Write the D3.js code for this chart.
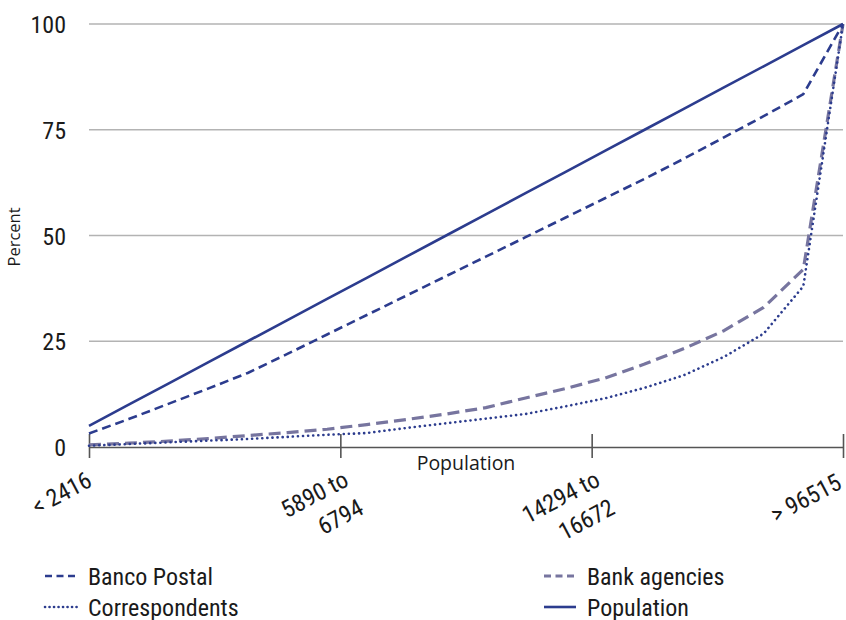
<!DOCTYPE html>
<html>
<head>
<meta charset="utf-8">
<script src="https://cdn.jsdelivr.net/npm/d3@7"></script>
<style>
  html, body { margin: 0; padding: 0; background: #fff; }
  svg { display: block; }
  .narrow { font-family: "Liberation Sans Narrow", "Arial Narrow", "Roboto", sans-serif; font-stretch: condensed; fill: #1a1a1a; }
  .title { font-family: "Open Sans", "Noto Sans", sans-serif; fill: #1a1a1a; }
</style>
</head>
<body>
<svg id="chart" width="846" height="620"></svg>
<script>
// ---- data ----
const groups = [1, 2, 3, 4, 5, 6, 7, 8, 9, 10, 11, 12, 13, 14, 15, 16, 17, 18, 19, 20];
const bancoPostal = [3.2, 6.6, 10.2, 13.8, 17.5, 22.0, 26.6, 31.2, 35.8, 40.4, 45.0, 49.6, 54.2, 58.8, 63.4, 68.2, 73.2, 78.2, 83.4, 100];
const bankAgencies = [0.5, 0.9, 1.4, 2.0, 2.7, 3.4, 4.2, 5.3, 6.5, 7.8, 9.3, 11.6, 13.8, 16.3, 19.6, 23.3, 27.5, 33.0, 42.0, 100];
const correspondents = [0.3, 0.7, 1.1, 1.5, 1.9, 2.4, 2.9, 3.3, 4.5, 5.6, 6.7, 7.8, 9.6, 11.5, 14.0, 17.0, 21.3, 26.8, 38.0, 100];
const population = [5, 10, 15, 20, 25, 30, 35, 40, 45, 50, 55, 60, 65, 70, 75, 80, 85, 90, 95, 100];
const xTickLabels = [["< 2416"], ["5890 to", "6794"], ["14294 to", "16672"], ["> 96515"]];
const yTicks = [0, 25, 50, 75, 100];
const seriesNames = ["Banco Postal", "Correspondents", "Bank agencies", "Population"];

// ---- styles ----
const BLUE = "#2c3c8e";
const GREY = "#77759f";
const styles = {
  "Banco Postal":   { color: BLUE, width: 2.6, dash: "9,5", cap: "butt", legDash: "7,4.5" },
  "Bank agencies":  { color: GREY, width: 3.2, dash: "12,6", cap: "butt", legDash: "7,4.5" },
  "Correspondents": { color: BLUE, width: 2.6, dash: "0.1,5", cap: "round", legDash: "0.1,4.4" },
  "Population":     { color: BLUE, width: 2.6, dash: null, cap: "butt", legDash: null }
};
const seriesData = {
  "Banco Postal": bancoPostal,
  "Bank agencies": bankAgencies,
  "Correspondents": correspondents,
  "Population": population
};

const svg = d3.select("#chart");
const x = d3.scaleLinear().domain([groups[0], groups[groups.length - 1]]).range([89, 843]);
const y = d3.scaleLinear().domain([0, 100]).range([447, 24]);

// gridlines
svg.append("g")
  .selectAll("line")
  .data(yTicks.filter(d => d > 0))
  .join("line")
  .attr("x1", x.range()[0]).attr("x2", x.range()[1])
  .attr("y1", d => y(d)).attr("y2", d => y(d))
  .attr("stroke", "#b3b3b3").attr("stroke-width", 1.5);

// y axis labels
const yAxis = d3.axisLeft(y).tickValues(yTicks).tickSize(0).tickPadding(0);
const gy = svg.append("g").attr("transform", "translate(66,0)").call(yAxis);
gy.select(".domain").remove();
gy.selectAll("text").attr("class", "narrow").attr("font-size", 24).attr("dy", "0.36em").attr("fill", "#1a1a1a");

// x axis
const [d0, d1] = x.domain();
const tickPos = xTickLabels.map((_, i) => d0 + (d1 - d0) * i / (xTickLabels.length - 1));
const xAxis = d3.axisBottom(x).tickValues(tickPos).tickSize(11).tickSizeOuter(0).tickFormat("");
const gx = svg.append("g").attr("transform", `translate(0,${y(0)})`).call(xAxis);
gx.select(".domain").attr("stroke", "#555").attr("stroke-width", 1.6);
gx.selectAll(".tick line").attr("stroke", "#555").attr("stroke-width", 1.6).attr("y1", -13);

const lbl = svg.append("g");
xTickLabels.forEach((lines, i) => {
  const last = i === xTickLabels.length - 1;
  const g = lbl.append("g").attr("transform", `translate(${x(tickPos[i])},${y(0)}) rotate(-28)`);
  lines.forEach((t, j) => {
    g.append("text").attr("class", "narrow").attr("font-size", 24)
      .attr("text-anchor", "end")
      .attr("x", lines.length === 1 ? (last ? -19 : -14) : -9)
      .attr("y", (lines.length === 1 ? 36 : 38) + j * 32).text(t);
  });
});

// axis titles
svg.append("text").attr("class", "title").attr("font-size", 19.5)
  .attr("text-anchor", "middle").attr("x", 466).attr("y", 470).text("Population");
svg.append("text").attr("class", "title").attr("font-size", 16.5)
  .attr("text-anchor", "middle").attr("transform", "translate(20,237) rotate(-90)").text("Percent");

// lines
const line = d3.line().x((d, i) => x(groups[i])).y(d => y(d)).curve(d3.curveLinear);
["Bank agencies", "Correspondents", "Banco Postal", "Population"].forEach(name => {
  const s = styles[name];
  svg.append("path")
    .datum(seriesData[name])
    .attr("d", line)
    .attr("fill", "none")
    .attr("stroke", s.color)
    .attr("stroke-width", s.width)
    .attr("stroke-dasharray", s.dash)
    .attr("stroke-linecap", s.cap)
    .attr("stroke-linejoin", "round");
});

// legend
const legendPos = {
  "Banco Postal":   [45, 0],
  "Correspondents": [45, 1],
  "Bank agencies":  [544, 0],
  "Population":     [544, 1]
};
const leg = svg.append("g");
seriesNames.forEach(name => {
  const [lx, row] = legendPos[name];
  const s = styles[name];
  const ly = 576 + row * 31;
  leg.append("line")
    .attr("x1", lx).attr("x2", lx + 32).attr("y1", ly).attr("y2", ly)
    .attr("stroke", s.color).attr("stroke-width", s.width)
    .attr("stroke-dasharray", s.legDash)
    .attr("stroke-linecap", s.cap);
  leg.append("text").attr("class", "narrow").attr("font-size", 24)
    .attr("x", lx + 43).attr("y", ly + 8.5).text(name);
});
</script>
</body>
</html>
